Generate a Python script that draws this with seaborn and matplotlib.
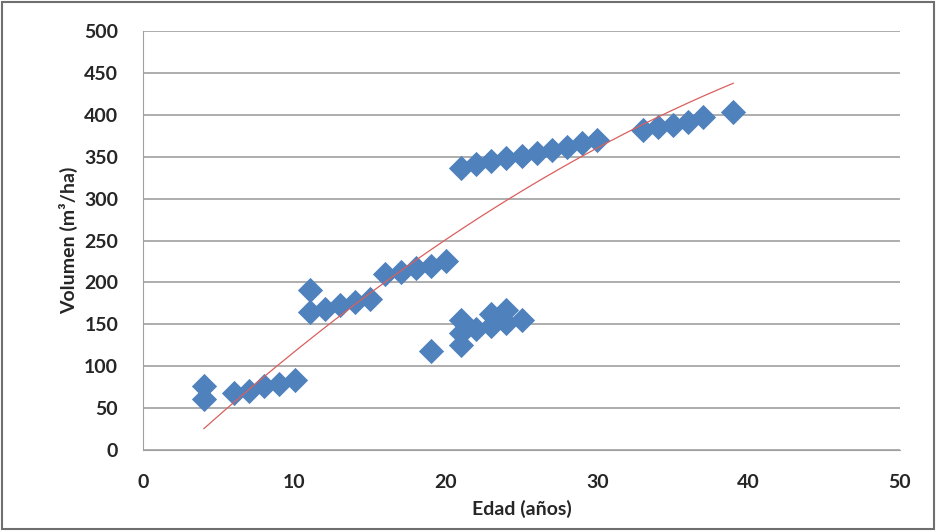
import numpy as np
import pandas as pd
import matplotlib.pyplot as plt
import seaborn as sns
from matplotlib.patches import Rectangle

# edad (años) y volumen (m3/ha)
edad = [4, 4, 6, 7, 8, 9, 10,
        11, 11, 12, 13, 14, 15, 16, 17, 18, 19, 20,
        19, 21, 21, 21, 22, 23, 23, 24, 24, 25,
        21, 22, 23, 24, 25, 26, 27, 28, 29, 30,
        33, 34, 35, 36, 37, 39]
volumen = [76, 61, 68, 71, 76, 79, 83,
           191, 165, 168, 173, 177, 180, 210, 213, 217, 220, 225,
           118, 155, 140, 125, 145, 162, 148, 167, 152, 155,
           337, 341, 345, 348, 351, 355, 358, 362, 366, 370,
           382, 385, 388, 392, 397, 404]

# linea de tendencia (polinomica orden 2), coeficientes estimados del grafico
tendencia_coef = [-0.1227, 17.06, -40.9]
tendencia_rango = [4, 39]

df = pd.DataFrame({"Edad": edad, "Volumen": volumen})

sns.set_style("white")
plt.rcParams["font.family"] = ["Lato", "DejaVu Sans"]

fig = plt.figure(figsize=(9.36, 5.31), dpi=100)
ax = fig.add_axes([0.153, 0.1525, 0.8085, 0.789])

sns.scatterplot(data=df, x="Edad", y="Volumen", marker="D", s=165,
                color="#4F81BD", edgecolor="#4F81BD", linewidth=0, ax=ax, zorder=3)

xs = np.linspace(tendencia_rango[0], tendencia_rango[1], 200)
ax.plot(xs, np.polyval(tendencia_coef, xs), color="#D9605E", linewidth=0.9, zorder=4)

ax.set_xlim(0, 50)
ax.set_ylim(0, 500)
ax.set_xticks(range(0, 51, 10))
ax.set_yticks(range(0, 501, 50))
ax.yaxis.grid(True, color="#A0A0A0", linewidth=1.2)
ax.xaxis.grid(False)
for s in ["top", "right"]:
    ax.spines[s].set_visible(False)
ax.spines["left"].set_color("#A0A0A0")
ax.spines["bottom"].set_color("#A0A0A0")
ax.tick_params(axis="both", direction="out", length=5, color="#A0A0A0",
               labelsize=14)
ax.tick_params(axis="x", pad=12)
ax.tick_params(axis="y", pad=13)
for lab in ax.get_xticklabels() + ax.get_yticklabels():
    lab.set_fontweight("bold")
    lab.set_color("#262626")

ax.set_xlabel("Edad (años)", fontsize=14, fontweight="bold", color="#262626", labelpad=7)
ax.set_ylabel("Volumen (m³/ha)", fontsize=14, fontweight="bold", color="#262626", labelpad=4)

fig.patches.append(Rectangle((0.002, 0.003), 0.996, 0.994, transform=fig.transFigure,
                             fill=False, edgecolor="#6F6F6F", linewidth=1.5))

fig.savefig("out.png", dpi=100)
